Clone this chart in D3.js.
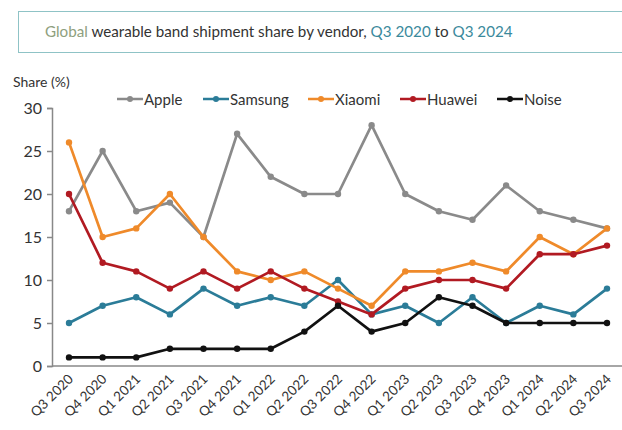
<!DOCTYPE html>
<html>
<head>
<meta charset="utf-8">
<script src="https://cdn.jsdelivr.net/npm/d3@7"></script>
<style>
  body { margin: 0; background: #fff; }
  svg { font-family: Lato, "Open Sans", sans-serif; }
</style>
</head>
<body>
<svg id="chart" width="622" height="430"></svg>
<script>
// quarters and vendor shares (%)
var quarters = ["Q3 2020","Q4 2020","Q1 2021","Q2 2021","Q3 2021","Q4 2021","Q1 2022","Q2 2022","Q3 2022",
  "Q4 2022","Q1 2023","Q2 2023","Q3 2023","Q4 2023","Q1 2024","Q2 2024","Q3 2024"];
var apple   = [18,25,18,19,15,27,22,20,20,28,20,18,17,21,18,17,16];
var samsung = [5,7,8,6,9,7,8,7,10,6,7,5,8,5,7,6,9];
var xiaomi  = [26,15,16,20,15,11,10,11,9,7,11,11,12,11,15,13,16];
var huawei  = [20,12,11,9,11,9,11,9,7.5,6,9,10,10,9,13,13,14];
var noise   = [1,1,1,2,2,2,2,4,7,4,5,8,7,5,5,5,5];
var yTicks  = [0,5,10,15,20,25,30];

var series = [
  {name: "Apple",   values: apple,   color: "#8a8a8a"},
  {name: "Samsung", values: samsung, color: "#2b7c98"},
  {name: "Xiaomi",  values: xiaomi,  color: "#ef8a2a"},
  {name: "Huawei",  values: huawei,  color: "#b11a22"},
  {name: "Noise",   values: noise,   color: "#111111"}
];

var svg = d3.select("#chart");

// title box
svg.append("rect")
  .attr("x", 18.5).attr("y", 11.5)
  .attr("width", 640).attr("height", 41)
  .attr("fill", "none").attr("stroke", "#8fc3c6").attr("stroke-width", 1);

var title = svg.append("text")
  .attr("x", 45).attr("y", 37)
  .attr("font-size", 15.2).attr("fill", "#333");
title.append("tspan").attr("fill", "#8ea07e").text("Global");
title.append("tspan").text(" wearable band shipment share by vendor, ");
title.append("tspan").attr("fill", "#3b8a9c").text("Q3 2020");
title.append("tspan").text(" to ");
title.append("tspan").attr("fill", "#3b8a9c").text("Q3 2024");

var x = d3.scalePoint().domain(quarters).range([69, 607]);
var y = d3.scaleLinear().domain([0, 30]).range([366, 108]);

// axes
var yAxis = svg.append("g")
  .attr("transform", "translate(52,0)")
  .call(d3.axisLeft(y).tickValues(yTicks).tickSize(5).tickPadding(5));
yAxis.select(".domain").attr("stroke", "#888").attr("stroke-width", 1.5);
yAxis.selectAll(".tick line").attr("stroke", "#888").attr("stroke-width", 1.5);
yAxis.selectAll(".tick text").attr("font-size", 16).attr("fill", "#333")
  .attr("font-family", "Lato, 'Open Sans', sans-serif");

svg.append("line")
  .attr("x1", 52).attr("x2", 622)
  .attr("y1", y(0)).attr("y2", y(0))
  .attr("stroke", "#888").attr("stroke-width", 1.5);

svg.append("g").selectAll("text")
  .data(quarters).enter()
  .append("text")
  .attr("transform", function(d){ return "translate(" + (x(d) + 5) + "," + (y(0) + 14) + ") rotate(-45)"; })
  .attr("text-anchor", "end")
  .attr("font-size", 13.5).attr("fill", "#333")
  .text(function(d){ return d; });

svg.append("text")
  .attr("x", 13).attr("y", 87)
  .attr("font-size", 14).attr("fill", "#333")
  .text("Share (%)");

// lines
var line = d3.line()
  .x(function(d, i){ return x(quarters[i]); })
  .y(function(d){ return y(d); });

series.forEach(function(s){
  var g = svg.append("g");
  g.append("path")
    .attr("d", line(s.values))
    .attr("fill", "none").attr("stroke", s.color).attr("stroke-width", 2.7)
    .attr("stroke-linejoin", "round");
  g.selectAll("circle")
    .data(s.values).enter()
    .append("circle")
    .attr("cx", function(d, i){ return x(quarters[i]); })
    .attr("cy", function(d){ return y(d); })
    .attr("r", 3.2)
    .attr("fill", s.color);
});

// legend
var legendX = [117, 203, 308, 400, 497];
var legend = svg.append("g");
series.forEach(function(s, i){
  var lg = legend.append("g").attr("transform", "translate(" + legendX[i] + ",99)");
  lg.append("line").attr("x1", 0).attr("x2", 26).attr("stroke", s.color).attr("stroke-width", 2.5);
  lg.append("circle").attr("cx", 13).attr("r", 3).attr("fill", s.color);
  lg.append("text").attr("x", 27).attr("y", 5.5)
    .attr("font-size", 15).attr("fill", "#333").text(s.name);
});
</script>
</body>
</html>
